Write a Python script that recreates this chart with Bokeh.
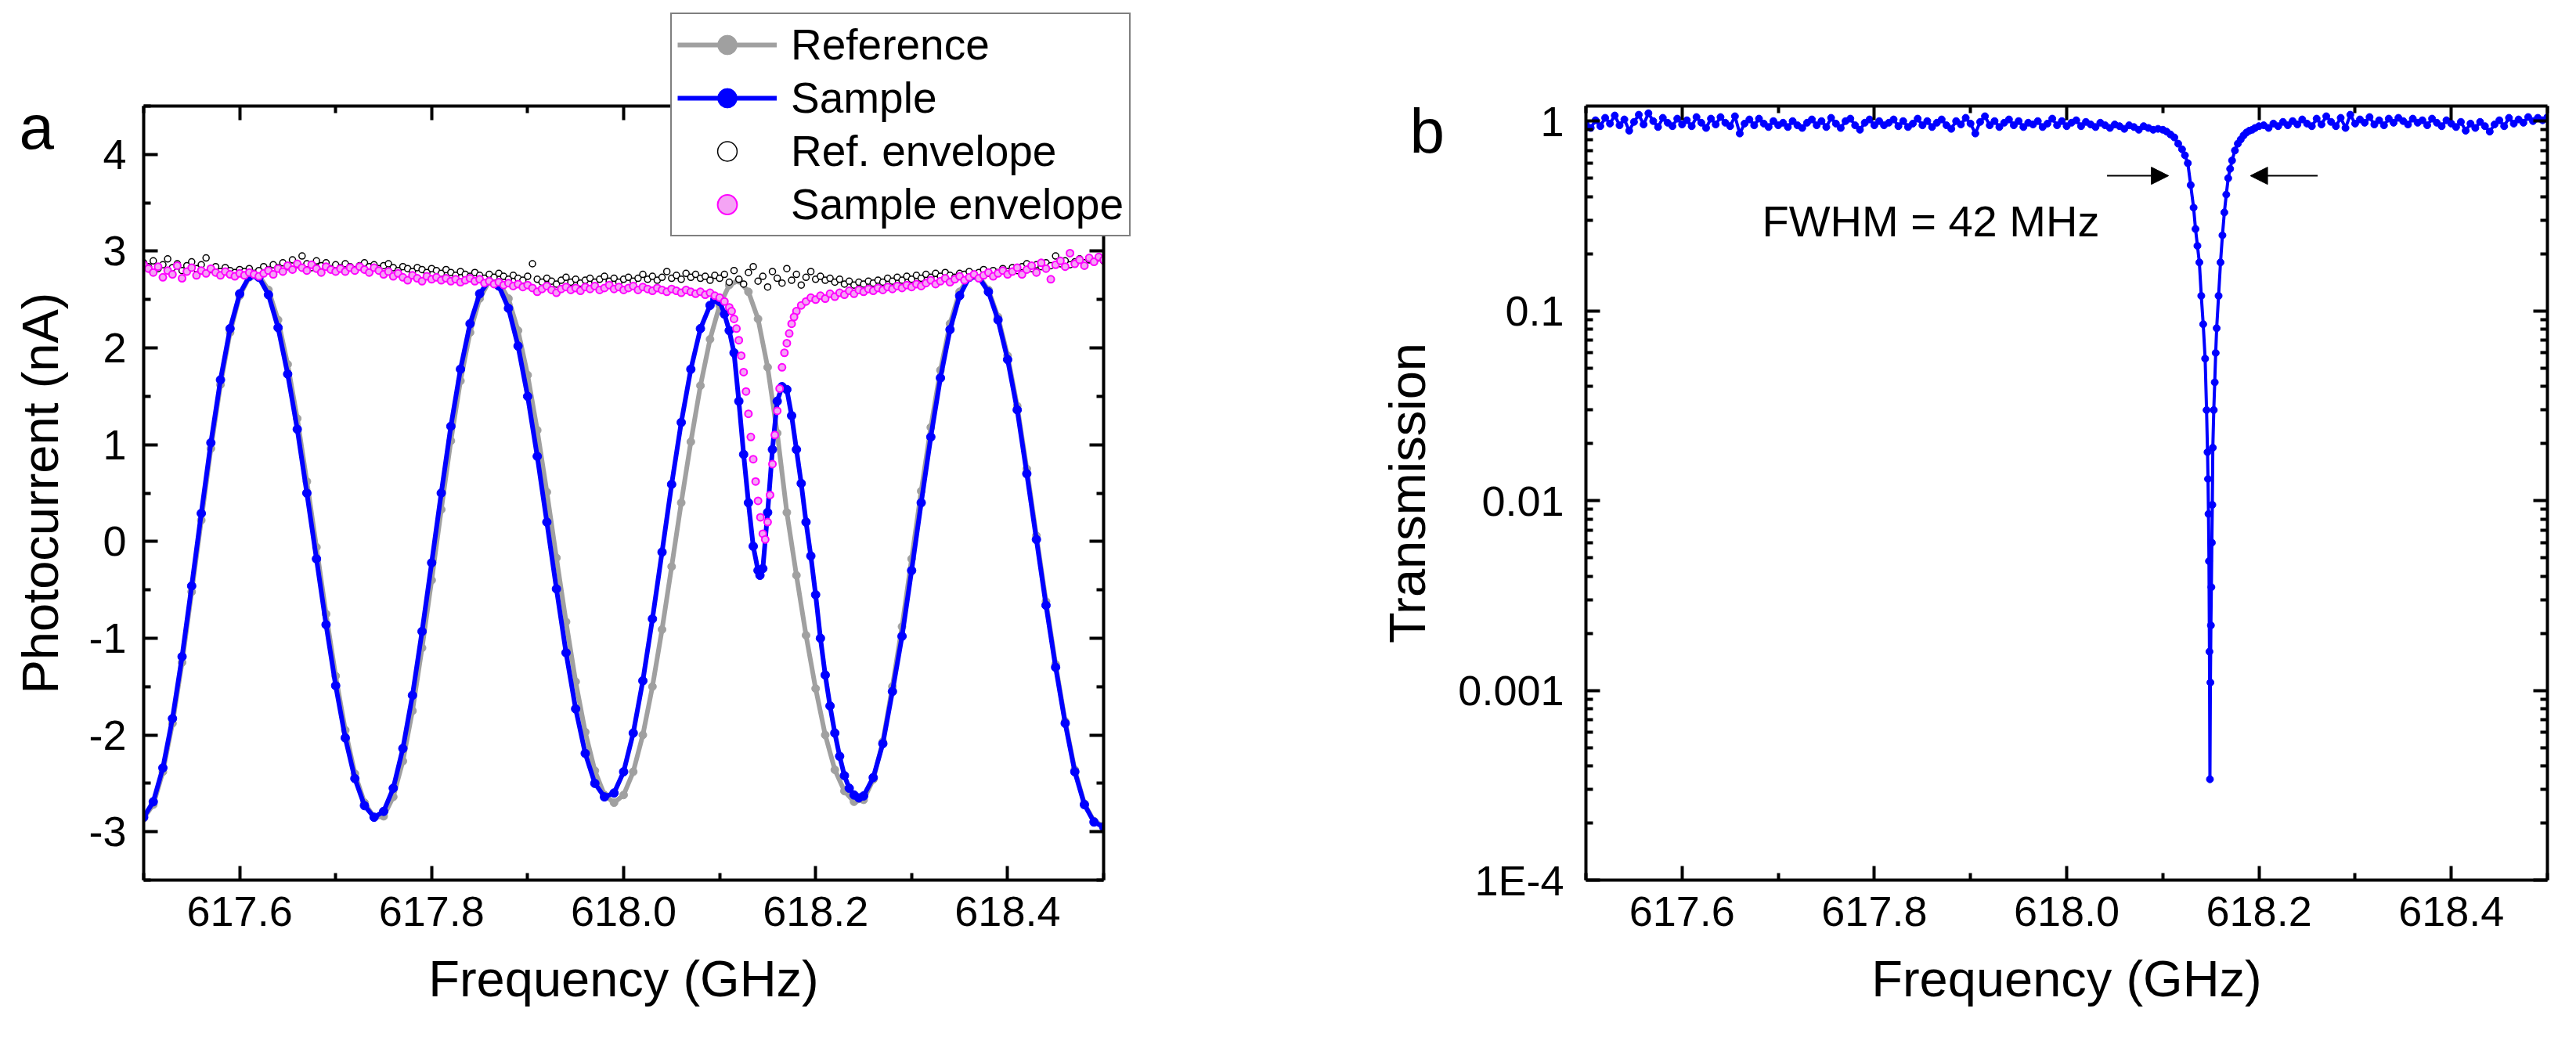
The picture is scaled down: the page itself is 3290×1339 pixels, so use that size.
import numpy as np
from bokeh.plotting import figure
from bokeh.layouts import row, column
from bokeh.models import (Range1d, LinearAxis, LogAxis, FixedTicker, PrintfTickFormatter,
                          CustomJSTickFormatter, Label, Arrow, NormalHead, Legend, LegendItem)
from bokeh.embed import file_html
from bokeh.resources import INLINE

FONT = "Liberation Sans"

# ---------------- Panel a data ----------------
# Sample (blue) : regular part 617.50 - 618.09
sample_f1 = np.round(617.50 + 0.01 * np.arange(60), 3)
sample_v1 = [-2.85, -2.69, -2.34, -1.83, -1.19, -0.46, 0.29, 1.02, 1.67, 2.20,
             2.56, 2.74, 2.73, 2.55, 2.21, 1.73, 1.16, 0.50, -0.18, -0.86,
             -1.49, -2.03, -2.45, -2.73, -2.85, -2.79, -2.55, -2.14, -1.59, -0.93,
             -0.22, 0.50, 1.19, 1.78, 2.25, 2.56, 2.70, 2.64, 2.41, 2.02,
             1.50, 0.88, 0.20, -0.49, -1.15, -1.73, -2.19, -2.50, -2.64, -2.60,
             -2.38, -1.98, -1.44, -0.80, -0.11, 0.59, 1.23, 1.78, 2.20, 2.44]
# Sample (blue) : resonance region
sample_f2 = [618.095, 618.100, 618.105, 618.110, 618.115, 618.120, 618.125, 618.130, 618.135, 618.140,
             618.142, 618.145, 618.150, 618.155, 618.160, 618.165, 618.170, 618.175, 618.180, 618.185,
             618.190, 618.195, 618.200, 618.205, 618.210, 618.215, 618.220, 618.225, 618.230, 618.235,
             618.240, 618.245]
sample_v2 = [2.50, 2.48, 2.35, 2.18, 1.95, 1.45, 0.90, 0.40, -0.05, -0.30,
             -0.35, -0.28, 0.30, 0.95, 1.45, 1.60, 1.57, 1.30, 0.95, 0.60,
             0.20, -0.15, -0.55, -1.00, -1.38, -1.70, -1.98, -2.22, -2.42, -2.55,
             -2.62, -2.65]
# Sample (blue) : 618.25 - 618.50
sample_f3 = np.round(618.25 + 0.01 * np.arange(26), 3)
sample_v3 = [-2.63, -2.44, -2.09, -1.55, -0.98, -0.30, 0.40, 1.08, 1.69, 2.19,
             2.54, 2.73, 2.73, 2.58, 2.29, 1.88, 1.36, 0.70, 0.02, -0.66,
             -1.30, -1.88, -2.38, -2.72, -2.90, -2.95]

# Reference (grey) 617.50 - 618.50
ref_f = np.round(617.50 + 0.01 * np.arange(101), 3)
ref_v = [-2.86, -2.72, -2.38, -1.88, -1.25, -0.52, 0.22, 0.96, 1.62, 2.16,
         2.54, 2.73, 2.75, 2.60, 2.29, 1.83, 1.27, 0.62, -0.06, -0.75,
         -1.39, -1.95, -2.40, -2.70, -2.85, -2.84, -2.64, -2.27, -1.75, -1.10,
         -0.40, 0.33, 1.04, 1.66, 2.16, 2.51, 2.69, 2.68, 2.51, 2.18,
         1.72, 1.15, 0.51, -0.17, -0.83, -1.45, -1.97, -2.37, -2.62, -2.70,
         -2.62, -2.38, -2.00, -1.50, -0.91, -0.26, 0.40, 1.03, 1.61, 2.09,
         2.44, 2.65, 2.70, 2.58, 2.30, 1.80, 1.12, 0.30, -0.35, -0.97,
         -1.52, -2.00, -2.36, -2.58, -2.69, -2.67, -2.46, -2.07, -1.50, -0.88,
         -0.18, 0.52, 1.18, 1.77, 2.25, 2.58, 2.74, 2.74, 2.60, 2.32,
         1.92, 1.40, 0.75, 0.06, -0.62, -1.27, -1.86, -2.36, -2.71, -2.89,
         -2.94]

# Envelopes, 617.500 - 618.500 every 0.005 GHz
env_f = np.round(617.50 + 0.005 * np.arange(201), 4)
ref_env = ([2.88, 2.84, 2.90, 2.82, 2.86, 2.92, 2.83, 2.87, 2.80, 2.85,
            2.89, 2.82, 2.86, 2.93, 2.81, 2.84, 2.79, 2.83, 2.80, 2.78, 2.81]
           + [2.79, 2.82, 2.77, 2.80, 2.84, 2.81, 2.86, 2.83, 2.88, 2.84,
              2.91, 2.86, 2.95, 2.87, 2.83, 2.90, 2.85, 2.88, 2.82, 2.86]
           + [2.83, 2.87, 2.84, 2.81, 2.85, 2.88, 2.84, 2.86, 2.82, 2.85,
              2.87, 2.83, 2.80, 2.84, 2.82, 2.79, 2.83, 2.81, 2.78, 2.82]
           + [2.80, 2.77, 2.81, 2.78, 2.75, 2.79, 2.76, 2.74, 2.78, 2.75,
              2.72, 2.76, 2.73, 2.77, 2.74, 2.71, 2.75, 2.72, 2.70, 2.74]
           + [2.87, 2.71, 2.68, 2.72, 2.69, 2.66, 2.70, 2.73, 2.68, 2.71,
              2.67, 2.70, 2.72, 2.68, 2.71, 2.74, 2.69, 2.72, 2.68, 2.71]
           + [2.73, 2.69, 2.72, 2.76, 2.71, 2.74, 2.70, 2.73, 2.79, 2.72,
              2.75, 2.71, 2.77, 2.73, 2.76, 2.72, 2.74, 2.70, 2.75, 2.72]
           + [2.76, 2.68, 2.80, 2.71, 2.66, 2.78, 2.84, 2.69, 2.74, 2.63,
              2.79, 2.72, 2.67, 2.82, 2.70, 2.76, 2.65, 2.73, 2.79, 2.71]
           + [2.74, 2.70, 2.72, 2.68, 2.71, 2.66, 2.69, 2.65, 2.68, 2.66,
              2.69, 2.67, 2.70, 2.68, 2.72, 2.69, 2.73, 2.70, 2.74, 2.71]
           + [2.75, 2.72, 2.76, 2.73, 2.77, 2.74, 2.78, 2.75, 2.73, 2.77,
              2.76, 2.79, 2.75, 2.78, 2.81, 2.77, 2.80, 2.78, 2.82, 2.79]
           + [2.83, 2.80, 2.84, 2.87, 2.82, 2.86, 2.84, 2.88, 2.85, 2.95,
              2.87, 2.90, 2.86, 2.89, 2.92, 2.88, 2.91, 2.89, 2.93, 2.90])
sample_env = ([2.86, 2.82, 2.78, 2.84, 2.73, 2.80, 2.76, 2.85, 2.72, 2.79,
               2.83, 2.75, 2.80, 2.77, 2.82, 2.78, 2.75, 2.79, 2.76, 2.74, 2.77]
              + [2.75, 2.78, 2.76, 2.74, 2.77, 2.80, 2.76, 2.82, 2.79, 2.85,
                 2.81, 2.87, 2.83, 2.80, 2.86, 2.82, 2.78, 2.84, 2.81, 2.79]
              + [2.82, 2.79, 2.83, 2.80, 2.84, 2.81, 2.78, 2.83, 2.80, 2.76,
                 2.79, 2.74, 2.77, 2.73, 2.70, 2.75, 2.72, 2.69, 2.74, 2.71]
              + [2.73, 2.70, 2.72, 2.69, 2.71, 2.68, 2.70, 2.72, 2.69, 2.71,
                 2.67, 2.69, 2.66, 2.68, 2.65, 2.67, 2.64, 2.66, 2.63, 2.65]
              + [2.62, 2.58, 2.61, 2.64, 2.60, 2.57, 2.61, 2.63, 2.60, 2.62,
                 2.59, 2.63, 2.61, 2.64, 2.60, 2.62, 2.65, 2.61, 2.63, 2.60]
              + [2.62, 2.64, 2.60, 2.63, 2.61, 2.59, 2.62, 2.60, 2.58, 2.61,
                 2.59, 2.57, 2.60, 2.58, 2.56, 2.58, 2.55, 2.57, 2.54, 2.52]
              + [2.48, 2.42, 2.30, 2.08, 1.75, 1.32, 0.85, 0.42, 0.08, 0.20,
                 0.80, 1.35, 1.80, 2.05, 2.25, 2.38, 2.44, 2.48, 2.52, 2.50]
              + [2.54, 2.51, 2.56, 2.53, 2.57, 2.55, 2.59, 2.56, 2.60, 2.58,
                 2.61, 2.59, 2.62, 2.60, 2.63, 2.61, 2.64, 2.62, 2.65, 2.63]
              + [2.66, 2.64, 2.67, 2.70, 2.66, 2.69, 2.72, 2.68, 2.71, 2.74,
                 2.70, 2.73, 2.76, 2.72, 2.75, 2.78, 2.74, 2.77, 2.80, 2.76]
              + [2.79, 2.83, 2.76, 2.81, 2.85, 2.78, 2.88, 2.82, 2.71, 2.86,
                 2.90, 2.84, 2.98, 2.87, 2.91, 2.85, 2.93, 2.89, 2.94, 2.91])
# extra sample-envelope points inside the resonance dip
sample_env_dip_f = [618.1125, 618.1175, 618.1225, 618.1275, 618.1325, 618.1375, 618.1425,
                    618.1475, 618.1525, 618.1575, 618.1625, 618.1675, 618.1725, 618.1775]
sample_env_dip_v = [2.38, 2.20, 1.92, 1.55, 1.08, 0.62, 0.25,
                    0.02, 0.48, 1.10, 1.58, 1.95, 2.15, 2.32]

# ---------------- Panel b data ----------------
trans_f_pre = np.round(617.50 + 0.005 * np.arange(120), 4)
trans_v_pre = ([0.96, 0.92, 1.01, 0.94, 1.04, 0.97, 1.07, 0.95, 1.02, 0.89,
                0.99, 1.08, 0.96, 1.10, 1.00, 0.93, 1.04, 0.98, 0.94, 1.03, 0.96]
               + [1.01, 0.94, 1.05, 0.98, 0.92, 1.03, 0.96, 1.05, 0.98, 0.94,
                  1.06, 0.86, 0.97, 1.02, 0.95, 1.03, 0.97, 0.93, 1.00, 0.95]
               + [0.98, 0.93, 1.00, 0.95, 0.92, 0.98, 1.02, 0.95, 1.00, 0.93,
                  1.04, 0.97, 0.92, 1.00, 1.03, 0.95, 0.90, 0.98, 1.02, 0.95]
               + [1.00, 0.95, 0.98, 1.02, 0.94, 1.00, 0.93, 0.97, 1.03, 0.95,
                  1.00, 0.93, 0.98, 1.02, 0.95, 0.91, 1.00, 0.96, 1.04, 0.97]
               + [0.86, 0.99, 1.06, 0.95, 1.00, 0.93, 0.98, 1.02, 0.95, 1.00,
                  0.93, 0.98, 0.96, 1.00, 0.93, 0.97, 1.03, 0.95, 1.00, 0.94]
               + [0.98, 1.01, 0.94, 0.99, 0.96, 0.93, 0.98, 0.95, 0.92, 0.96,
                  0.94, 0.91, 0.95, 0.93, 0.90, 0.94, 0.92, 0.90, 0.91])
trans_f_dip = [618.100, 618.104, 618.108, 618.112, 618.116, 618.120, 618.123, 618.126, 618.129, 618.132,
               618.134, 618.136, 618.138, 618.140, 618.142, 618.144, 618.1455, 618.1465, 618.147, 618.1475,
               618.148, 618.1485, 618.149, 618.1495, 618.150, 618.1505, 618.151, 618.1515, 618.152, 618.153,
               618.154, 618.155, 618.156, 618.158, 618.160, 618.162, 618.164, 618.166, 618.168, 618.170,
               618.172, 618.175, 618.178, 618.181, 618.184, 618.187, 618.190, 618.193, 618.196, 618.200]
trans_v_dip = [0.90, 0.88, 0.85, 0.82, 0.76, 0.71, 0.66, 0.60, 0.46, 0.35,
               0.27, 0.22, 0.18, 0.12, 0.085, 0.056, 0.030, 0.018, 0.013, 0.0085,
               0.0048, 0.0016, 0.00034, 0.0011, 0.0022, 0.0035, 0.0060, 0.0095, 0.019, 0.030,
               0.042, 0.060, 0.081, 0.12, 0.18, 0.25, 0.33, 0.41, 0.50, 0.56,
               0.62, 0.70, 0.76, 0.80, 0.84, 0.87, 0.89, 0.90, 0.92, 0.94]
trans_f_post = np.round(618.205 + 0.005 * np.arange(60), 4)
trans_v_post = [0.95, 0.92, 0.97, 0.94, 0.99, 0.95, 1.00, 0.96, 1.02, 0.97,
                0.94, 1.03, 0.96, 1.06, 0.99, 0.94, 1.04, 0.92, 1.08, 0.97,
                1.02, 0.98, 1.05, 0.96, 1.01, 0.95, 1.03, 0.98, 1.04, 1.00,
                0.96, 1.03, 0.98, 1.01, 0.95, 1.03, 0.98, 0.94, 1.01, 0.97,
                0.93, 0.99, 0.89, 0.97, 0.92, 0.99, 0.94, 0.88, 0.96, 1.01,
                0.94, 1.04, 0.97, 1.02, 0.98, 1.05, 1.00, 1.04, 1.01, 1.05]

x_major = [617.6, 617.8, 618.0, 618.2, 618.4]
x_minor = [617.5, 617.7, 617.9, 618.1, 618.3, 618.5]
ya_major = [-3, -2, -1, 0, 1, 2, 3, 4]
ya_minor = [-3.5, -2.5, -1.5, -0.5, 0.5, 1.5, 2.5, 3.5, 4.5]
yb_major = [1e-4, 1e-3, 1e-2, 1e-1, 1.0]
yb_minor = [k * 10.0 ** e for e in range(-4, 0) for k in range(2, 10)]

legend_labels = ["Reference", "Sample", "Ref. envelope", "Sample envelope"]

BLUE = "#0000FF"
GREY = "#A0A0A0"
MAGENTA = "#FF00FF"
PINK = "#F4A4F4"

blank = CustomJSTickFormatter(code="return ''")


def style_axis(ax):
    ax.axis_line_width = 4
    ax.axis_line_color = "black"
    ax.major_tick_in = 18
    ax.major_tick_out = 0
    ax.minor_tick_in = 9
    ax.minor_tick_out = 0
    ax.major_tick_line_width = 4
    ax.minor_tick_line_width = 4
    ax.major_tick_line_color = "black"
    ax.minor_tick_line_color = "black"
    ax.major_label_text_font = FONT
    ax.major_label_text_font_size = "54px"
    ax.major_label_text_color = "black"
    ax.axis_label_text_font = FONT
    ax.axis_label_text_font_size = "65px"
    ax.axis_label_text_font_style = "normal"
    ax.axis_label_text_color = "black"


def base_fig(y_type, y_range, left, frame_w, right):
    p = figure(width=left + frame_w + right, height=1323,
               output_backend="svg", toolbar_location=None,
               x_range=Range1d(617.5, 618.5), y_range=y_range, y_axis_type=y_type,
               min_border_left=left, min_border_right=right,
               min_border_top=135, min_border_bottom=199)
    p.grid.visible = False
    p.outline_line_color = None
    p.background_fill_color = "white"
    p.border_fill_color = "white"
    return p


# ---------------- Panel a ----------------
pa = base_fig("linear", Range1d(-3.5, 4.5), 183, 1226, 231)
xt = FixedTicker(ticks=x_major, minor_ticks=x_minor)
yt_a = FixedTicker(ticks=ya_major, minor_ticks=ya_minor)
pa.xaxis.ticker = xt
pa.xaxis.formatter = PrintfTickFormatter(format="%.1f")
pa.yaxis.ticker = yt_a
pa.yaxis.formatter = PrintfTickFormatter(format="%d")
pa.xaxis.axis_label = "Frequency (GHz)"
pa.yaxis.axis_label = "Photocurrent (nA)"
for ax in pa.xaxis + pa.yaxis:
    style_axis(ax)
pa.xaxis.major_label_standoff = 21
pa.xaxis.axis_label_standoff = 28
pa.yaxis.major_label_standoff = 22
pa.yaxis.axis_label_standoff = 22
top_a = LinearAxis(ticker=xt, formatter=blank)
right_a = LinearAxis(ticker=yt_a, formatter=blank)
style_axis(top_a)
style_axis(right_a)
pa.add_layout(top_a, "above")
pa.add_layout(right_a, "right")

sample_f = list(sample_f1) + list(sample_f2) + list(sample_f3)
sample_v = list(sample_v1) + list(sample_v2) + list(sample_v3)
se_f = list(env_f) + sample_env_dip_f
se_v = list(sample_env) + sample_env_dip_v

STY_REF_L = dict(line_color=GREY, line_width=6)
STY_REF_P = dict(size=10, fill_color=GREY, line_color=GREY)
STY_S_L = dict(line_color=BLUE, line_width=6)
STY_S_P = dict(size=11, fill_color=BLUE, line_color=BLUE)
STY_RE = dict(size=8, fill_color="white", line_color="black", line_width=1.5)
STY_SE = dict(size=9, fill_color=PINK, line_color=MAGENTA, line_width=2)

pa.line(ref_f, ref_v, **STY_REF_L)
pa.scatter(ref_f, ref_v, **STY_REF_P)
pa.line(sample_f, sample_v, **STY_S_L)
pa.scatter(sample_f, sample_v, **STY_S_P)
pa.scatter(env_f, ref_env, **STY_RE)
pa.scatter(se_f, se_v, **STY_SE)

# ---------------- Panel b ----------------
pb = base_fig("log", Range1d(1e-4, 1.2), 385, 1228, 20)
yt_b = FixedTicker(ticks=yb_major, minor_ticks=yb_minor)
pb.xaxis.ticker = xt
pb.xaxis.formatter = PrintfTickFormatter(format="%.1f")
pb.yaxis.ticker = yt_b
pb.yaxis.formatter = CustomJSTickFormatter(code="""
const e = Math.round(Math.log10(tick));
const m = {"-4": "1E-4", "-3": "0.001", "-2": "0.01", "-1": "0.1", "0": "1"};
const s = m[String(e)];
return s === undefined ? "" : s;
""")
pb.xaxis.axis_label = "Frequency (GHz)"
pb.yaxis.axis_label = "Transmission"
for ax in pb.xaxis + pb.yaxis:
    style_axis(ax)
pb.xaxis.major_label_standoff = 21
pb.xaxis.axis_label_standoff = 28
pb.yaxis.major_label_standoff = 28
pb.yaxis.axis_label_standoff = 25
top_b = LinearAxis(ticker=xt, formatter=blank)
right_b = LogAxis(ticker=yt_b, formatter=blank)
style_axis(top_b)
style_axis(right_b)
pb.add_layout(top_b, "above")
pb.add_layout(right_b, "right")

trans_f = list(trans_f_pre) + trans_f_dip + list(trans_f_post)
trans_v = list(trans_v_pre) + trans_v_dip + list(trans_v_post)
pb.line(trans_f, trans_v, line_color=BLUE, line_width=4)
pb.scatter(trans_f, trans_v, size=9, fill_color=BLUE, line_color=BLUE)

pb.add_layout(Arrow(x_start=618.042, y_start=0.515, x_end=618.106, y_end=0.515,
                    line_width=2, line_color="black",
                    end=NormalHead(size=22, fill_color="black", line_color="black")))
pb.add_layout(Arrow(x_start=618.261, y_start=0.515, x_end=618.191, y_end=0.515,
                    line_width=2, line_color="black",
                    end=NormalHead(size=22, fill_color="black", line_color="black")))
pb.add_layout(Label(x=225, y=842, x_units="screen", y_units="screen", text="FWHM = 42 MHz",
                    text_font=FONT, text_font_size="56px", text_color="black",
                    text_baseline="alphabetic"))

# ---------------- Transparent overlay: panel letters + legend overhanging the frame ----------------
OW, OH = 1640 + 1633, 1323
ov = figure(width=OW, height=OH, output_backend="svg", toolbar_location=None,
            x_range=Range1d(0, OW), y_range=Range1d(0, OH),
            x_axis_type=None, y_axis_type=None, min_border=0,
            styles={"position": "absolute", "top": "0px", "left": "0px", "z-index": "10"})
ov.grid.visible = False
ov.outline_line_color = None
ov.background_fill_alpha = 0
ov.border_fill_alpha = 0
# the legend swatches reuse the panel-a series, drawn on a range that keeps them off-canvas
ov.extra_x_ranges = {"off": Range1d(0, 1)}
ov.extra_y_ranges = {"off": Range1d(100, 101)}
OFF = dict(x_range_name="off", y_range_name="off")
e_ref_l = ov.line(ref_f, ref_v, **STY_REF_L, **OFF)
e_ref_p = ov.scatter(ref_f, ref_v, **STY_REF_P, **OFF)
e_s_l = ov.line(sample_f, sample_v, **STY_S_L, **OFF)
e_s_p = ov.scatter(sample_f, sample_v, **STY_S_P, **OFF)
e_re = ov.scatter(env_f, ref_env, **STY_RE, **OFF)
e_se = ov.scatter(se_f, se_v, **STY_SE, **OFF)

legend = Legend(items=[LegendItem(label=legend_labels[0], renderers=[e_ref_l, e_ref_p]),
                       LegendItem(label=legend_labels[1], renderers=[e_s_l, e_s_p]),
                       LegendItem(label=legend_labels[2], renderers=[e_re]),
                       LegendItem(label=legend_labels[3], renderers=[e_se])],
                location=(856, 1021))
legend.border_line_color = "black"
legend.border_line_width = 2
legend.background_fill_color = "white"
legend.background_fill_alpha = 1.0
legend.padding = 7
legend.spacing = 4
legend.margin = 0
legend.glyph_width = 127
legend.glyph_height = 62
legend.label_height = 62
legend.label_standoff = 18
legend.label_text_font = FONT
legend.label_text_font_size = "55px"
legend.label_text_color = "black"
ov.add_layout(legend)

ov.add_layout(Label(x=24, y=1161, x_units="screen", y_units="screen", text="a",
                    text_font=FONT, text_font_size="80px", text_color="black",
                    text_baseline="alphabetic"))
ov.add_layout(Label(x=1800, y=1156, x_units="screen", y_units="screen", text="b",
                    text_font=FONT, text_font_size="80px", text_color="black",
                    text_baseline="alphabetic"))

layout = column(row(pa, pb), ov, styles={"position": "relative"})
open("out.html", "w").write(file_html(layout, INLINE))
